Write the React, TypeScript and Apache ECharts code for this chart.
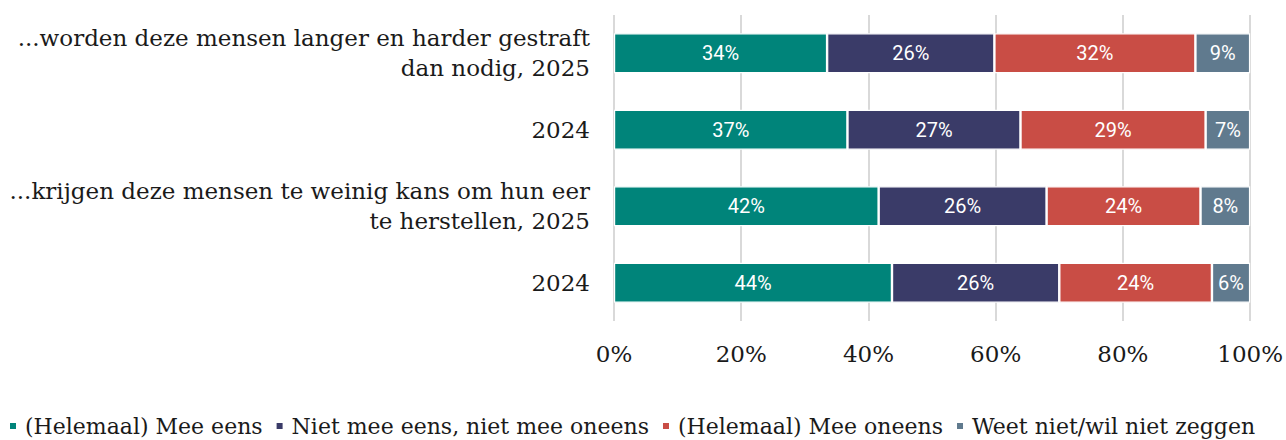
import React, { useEffect, useRef } from "react";
import * as echarts from "echarts";

const categories = [
  "...worden deze mensen langer en harder gestraft\ndan nodig, 2025",
  "2024",
  "...krijgen deze mensen te weinig kans om hun eer\nte herstellen, 2025",
  "2024",
];
const seriesNames = [
  "(Helemaal) Mee eens",
  "Niet mee eens, niet mee oneens",
  "(Helemaal) Mee oneens",
  "Weet niet/wil niet zeggen",
];
const meeEens = [33.5, 36.7, 41.6, 43.7];
const neutraal = [26.3, 27.2, 26.4, 26.3];
const meeOneens = [31.6, 29.1, 24.2, 24.0];
const weetNiet = [8.6, 7.0, 7.8, 6.0];
const colors = ["#00847A", "#3A3B68", "#C94D45", "#607A8E"];
const xTicks = [0, 20, 40, 60, 80, 100];

const serif = "'DejaVu Serif', serif";
const sans = "Roboto, 'Noto Sans', sans-serif";

export default function App() {
  const ref = useRef<HTMLDivElement>(null);
  useEffect(() => {
    document.body.style.margin = "0";
    const chart = echarts.init(ref.current!, null, { renderer: "svg" });
    const values = [meeEens, neutraal, meeOneens, weetNiet];
    chart.setOption({
      animation: false,
      grid: { left: 614, right: 34, top: 15, bottom: 119, containLabel: false },
      xAxis: {
        type: "value",
        min: xTicks[0],
        max: xTicks[xTicks.length - 1],
        interval: 20,
        axisLine: { show: false },
        axisTick: { show: false },
        splitLine: { show: true, lineStyle: { color: "#D9D9D9", width: 2 } },
        axisLabel: {
          formatter: "{value}%",
          fontFamily: serif,
          fontSize: 23,
          color: "#1a1a1a",
          margin: 21,
        },
      },
      yAxis: {
        type: "category",
        data: categories,
        inverse: true,
        axisLine: { show: false },
        axisTick: { show: false },
        axisLabel: {
          fontFamily: serif,
          fontSize: 23,
          color: "#1a1a1a",
          margin: 24,
          align: "right",
          lineHeight: 30,
        },
      },
      legend: {
        left: 0,
        top: 415,
        width: 1500,
        padding: [0, 0, 0, 8],
        icon: "rect",
        itemWidth: 8,
        itemHeight: 8,
        itemGap: 12,
        textStyle: { fontFamily: serif, fontSize: 22, color: "#1a1a1a", padding: [0, 0, 0, 3] },
        data: seriesNames,
      },
      series: seriesNames.map((name, i) => ({
        name,
        type: "bar",
        stack: "total",
        barWidth: 40,
        data: values[i],
        itemStyle: { color: colors[i], borderColor: "#ffffff", borderWidth: 1.2 },
        label: {
          show: true,
          position: "inside",
          color: "#ffffff",
          fontFamily: sans,
          fontSize: 20,
          formatter: (p: any) => Math.round(p.value) + "%",
        },
      })),
    });
    return () => chart.dispose();
  }, []);
  return <div ref={ref} style={{ width: 1286, height: 440 }} />;
}
